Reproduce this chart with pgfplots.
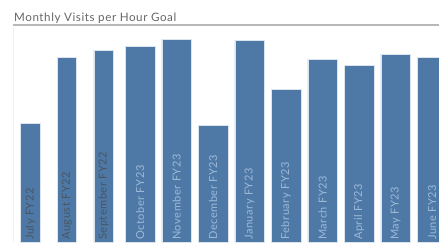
\documentclass[border=0pt]{standalone}
\usepackage{pgfplots}
\pgfplotsset{compat=1.18}
\usepackage{fontspec}
\setmainfont{Lato}
\newfontfamily\spaced[LetterSpace=5]{Lato}
\definecolor{barblue}{HTML}{4E79A7}
\definecolor{darklab}{HTML}{4A5560}
\definecolor{lightlab}{HTML}{9DB9D8}
\definecolor{titlegray}{HTML}{666666}
\begin{document}
\begin{tikzpicture}[x=1pt,y=1pt]
\useasboundingbox (0,0) rectangle (439,242);
\node[anchor=base west, text=titlegray, font=\spaced\fontsize{11.6}{13}\selectfont, inner sep=0pt] at (14,221) {Monthly Visits per Hour Goal};
\draw[line width=1.8pt, color=black!28] (13,217) -- (439,217);
\begin{axis}[
  at={(13pt,0pt)}, anchor=south west,
  scale only axis, width=426pt, height=214pt,
  xmin=-0.479, xmax=11.19, ymin=0, ymax=214,
  axis lines=none,
  clip=true,
  ytick=\empty, xtick=\empty,
  extra y ticks={107}, extra y tick style={grid=major, major grid style={black!7, line width=0.8pt}, tick style={draw=none}},
  extra y tick labels={},
]
\draw[black!6, line width=0.8pt] (axis cs:-0.479,0) -- (axis cs:-0.479,214);
\addplot[ybar, bar width=19.5pt, fill=barblue, draw=white!80!barblue, line width=0.5pt] coordinates {
(0,119) (1,185) (2,192)};
\addplot[ybar, bar width=29.5pt, fill=barblue, draw=white!80!barblue, line width=0.5pt] coordinates {
(3,196) (4,203) (5,117) (6,202) (7,153) (8,183) (9,177) (10,188) (11,185)};
\foreach \i/\lab/\c in {0/July FY22/darklab, 1/August FY22/darklab, 2/September FY22/darklab, 3/October FY23/lightlab, 4/November FY23/lightlab, 5/December FY23/lightlab, 6/January FY23/lightlab, 7/February FY23/lightlab, 8/March FY23/lightlab, 9/April FY23/lightlab, 10/May FY23/lightlab, 11/June FY23/lightlab} {
  \edef\temp{\noexpand\node[rotate=90, anchor=west, inner sep=0pt, text=\c, font=\noexpand\spaced\noexpand\fontsize{11}{12}\noexpand\selectfont] at (axis cs:\i,2) {\lab};}
  \temp
}
\end{axis}
\end{tikzpicture}
\end{document}
